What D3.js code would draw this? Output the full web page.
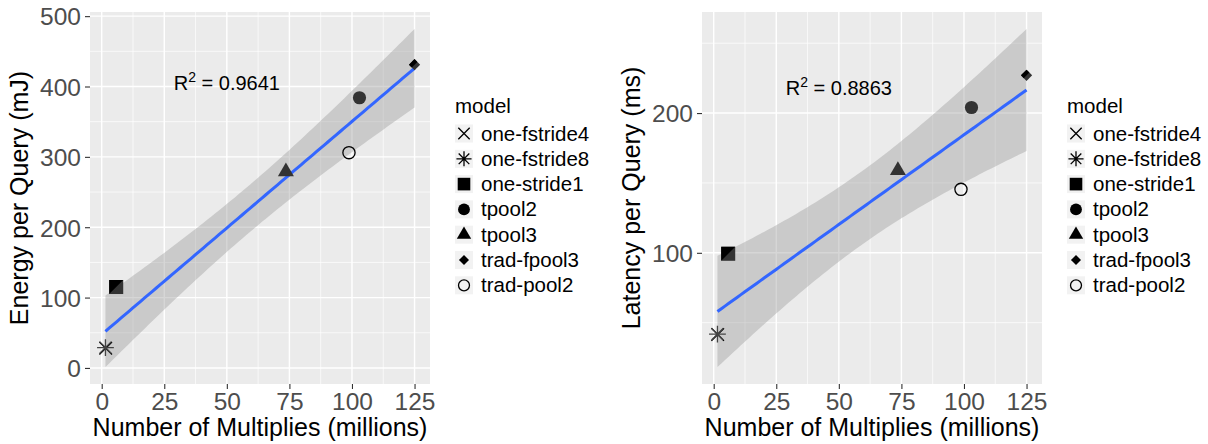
<!DOCTYPE html>
<meta charset="utf-8">
<html>
<head>
  <title>Multiplies vs energy / latency</title>
  <style>
    body { margin: 0; background: #fff; }
    svg { display: block; font-family: "Liberation Sans", Arial, Helvetica, sans-serif; }
  </style>
</head>
<body>

<svg id="chart" width="1208" height="444"></svg>

<script src="https://d3js.org/d3.v7.min.js"></script>
<script>

// --- data ---
const models     = ["one-fstride4", "one-fstride8", "one-stride1", "tpool2", "tpool3", "trad-fpool3", "trad-pool2"];
const shapes     = ["cross", "asterisk", "square", "circle", "triangle", "diamond", "open"];
const multiplies = [1.6, 1.5, 5.8, 103, 73.6, 125, 98.8];   // millions
const energy     = [28, 29, 115, 384, 279, 431, 306];       // mJ
const latency    = [41.5, 41.8, 99.3, 204, 159, 227, 145.4]; // ms

const xTicks       = [0, 25, 50, 75, 100, 125];
const energyTicks  = [0, 100, 200, 300, 400, 500];
const latencyTicks = [100, 200];
const r2Labels     = ["0.9641", "0.8863"];
const annotX = 50;
const annotY = [405, 218];

const tCrit = 2.5706; // t(0.975, df = 5), n = 7 points

const svg = d3.select("#chart");

const panels = [
  { left: 90,  right: 430,  ys: energy,  ticks: energyTicks,  title: "Energy per Query (mJ)",  r2: r2Labels[0], ay: annotY[0] },
  { left: 702, right: 1042, ys: latency, ticks: latencyTicks, title: "Latency per Query (ms)", r2: r2Labels[1], ay: annotY[1] }
];
const plotTop = 12, plotBottom = 384;

// ordinary least squares with 95% confidence band (like geom_smooth(method = "lm"))
function linFit(xs, ys) {
  const n = xs.length,
        mx = d3.mean(xs), my = d3.mean(ys);
  let sxx = 0, sxy = 0, syy = 0;
  xs.forEach((x, i) => {
    sxx += (x - mx) * (x - mx);
    sxy += (x - mx) * (ys[i] - my);
    syy += (ys[i] - my) * (ys[i] - my);
  });
  const slope = sxy / sxx, icpt = my - slope * mx;
  const s = Math.sqrt((syy - slope * sxy) / (n - 2));
  const [x0, x1] = d3.extent(xs);
  const band = d3.range(80).map(k => {
    const x = x0 + (x1 - x0) * k / 79;
    const yhat = icpt + slope * x;
    const half = tCrit * s * Math.sqrt(1 / n + (x - mx) * (x - mx) / sxx);
    return { x: x, y: yhat, lo: yhat - half, hi: yhat + half };
  });
  return band;
}

function expand(ext) {
  const pad = (ext[1] - ext[0]) * 0.05;
  return [ext[0] - pad, ext[1] + pad];
}

function minors(ticks, dom) {
  const step = ticks.length > 1 ? ticks[1] - ticks[0] : 100;
  const m = [];
  ticks.forEach(t => { m.push(t - step / 2, t + step / 2); });
  return Array.from(new Set(m)).filter(v => v > dom[0] && v < dom[1]);
}

// draw one point symbol
function symbol(g, shape, cx, cy, k, legend) {
  const dark = legend ? "#000" : "#333";
  if (shape === "cross") {
    const h = 6.3 * k;
    g.append("path").attr("d", `M${cx-h},${cy-h}L${cx+h},${cy+h}M${cx-h},${cy+h}L${cx+h},${cy-h}`)
      .attr("stroke", "#000").attr("stroke-width", 1.3).attr("fill", "none");
  } else if (shape === "asterisk") {
    const h = 5.9 * k, p = 8.4 * k;
    g.append("path").attr("d", `M${cx-h},${cy-h}L${cx+h},${cy+h}M${cx-h},${cy+h}L${cx+h},${cy-h}M${cx-p},${cy}L${cx+p},${cy}M${cx},${cy-p}L${cx},${cy+p}`)
      .attr("stroke", legend ? "#000" : "#444").attr("stroke-width", 1.3).attr("fill", "none");
  } else if (shape === "square") {
    const h = 7 * k;
    g.append("rect").attr("x", cx - h).attr("y", cy - h).attr("width", 2 * h).attr("height", 2 * h).attr("fill", dark);
    if (!legend) g.append("path").attr("d", `M${cx-h},${cy-h}L${cx+h},${cy-h}L${cx-h},${cy+h}Z`).attr("fill", "#000");
  } else if (shape === "circle") {
    g.append("circle").attr("cx", cx).attr("cy", cy).attr("r", 6.6 * k).attr("fill", dark);
  } else if (shape === "triangle") {
    const hw = 8 * k, r = 9.2 * k;
    g.append("path").attr("d", `M${cx},${cy-r}L${cx+hw},${cy+r/2}L${cx-hw},${cy+r/2}Z`).attr("fill", dark);
  } else if (shape === "diamond") {
    const h = 5.6 * k;
    g.append("path").attr("d", `M${cx},${cy-h}L${cx+h},${cy}L${cx},${cy+h}L${cx-h},${cy}Z`).attr("fill", dark);
    if (!legend) g.append("path").attr("d", `M${cx},${cy-h}L${cx+h/2},${cy-h/2}L${cx-h/2},${cy+h/2}L${cx-h},${cy}Z`).attr("fill", "#000");
  } else if (shape === "open") {
    g.append("circle").attr("cx", cx).attr("cy", cy).attr("r", 6.1 * k)
      .attr("fill", "none").attr("stroke", "#000").attr("stroke-width", 1.3);
  }
}

panels.forEach(p => {
  const band = linFit(multiplies, p.ys);

  const xDom = expand(d3.extent(multiplies));
  const yDom = expand(d3.extent(p.ys.concat(band.map(d => d.lo), band.map(d => d.hi))));

  const x = d3.scaleLinear().domain(xDom).range([p.left, p.right]);
  const y = d3.scaleLinear().domain(yDom).range([plotBottom, plotTop]);

  const g = svg.append("g");

  // panel background + grid
  g.append("rect").attr("x", p.left).attr("y", plotTop)
    .attr("width", p.right - p.left).attr("height", plotBottom - plotTop).attr("fill", "#ebebeb");

  g.selectAll(".xminor").data(minors(xTicks, xDom)).join("line")
    .attr("x1", d => x(d)).attr("x2", d => x(d)).attr("y1", plotTop).attr("y2", plotBottom)
    .attr("stroke", "#fff").attr("stroke-width", 0.7);
  g.selectAll(".yminor").data(minors(p.ticks, yDom)).join("line")
    .attr("x1", p.left).attr("x2", p.right).attr("y1", d => y(d)).attr("y2", d => y(d))
    .attr("stroke", "#fff").attr("stroke-width", 0.7);
  g.selectAll(".xmajor").data(xTicks).join("line")
    .attr("x1", d => x(d)).attr("x2", d => x(d)).attr("y1", plotTop).attr("y2", plotBottom)
    .attr("stroke", "#fff").attr("stroke-width", 1.4);
  g.selectAll(".ymajor").data(p.ticks).join("line")
    .attr("x1", p.left).attr("x2", p.right).attr("y1", d => y(d)).attr("y2", d => y(d))
    .attr("stroke", "#fff").attr("stroke-width", 1.4);

  // confidence band and fit line
  g.append("path").datum(band)
    .attr("d", d3.area().x(d => x(d.x)).y0(d => y(d.lo)).y1(d => y(d.hi)))
    .attr("fill", "#999").attr("fill-opacity", 0.4);
  g.append("path").datum(band)
    .attr("d", d3.line().x(d => x(d.x)).y(d => y(d.y)))
    .attr("fill", "none").attr("stroke", "#3366FF").attr("stroke-width", 3);

  // points
  models.forEach((m, i) => symbol(g, shapes[i], x(multiplies[i]), y(p.ys[i]), 1, false));

  // R^2 annotation
  const t = g.append("text")
    .attr("x", x(annotX)).attr("y", y(p.ay) + 7)
    .attr("text-anchor", "middle").attr("font-size", 20).attr("fill", "#000");
  t.append("tspan").text("R");
  t.append("tspan").attr("font-size", 14).attr("dy", -8).text("2");
  t.append("tspan").attr("dy", 8).text(" = " + p.r2);

  // axes
  const xAxis = g.append("g").attr("transform", `translate(0,${plotBottom})`)
    .call(d3.axisBottom(x).tickValues(xTicks).tickSize(5).tickPadding(4));
  const yAxis = g.append("g").attr("transform", `translate(${p.left},0)`)
    .call(d3.axisLeft(y).tickValues(p.ticks).tickSize(5).tickPadding(4));
  [xAxis, yAxis].forEach(a => {
    a.select(".domain").remove();
    a.selectAll(".tick line").attr("stroke", "#333").attr("stroke-width", 1.1);
    a.selectAll(".tick text").attr("fill", "#4d4d4d").attr("font-size", 24.5)
      .attr("font-family", "Liberation Sans, Arial, sans-serif");
  });
  xAxis.selectAll(".tick text").attr("dy", null).attr("y", 26);
  yAxis.selectAll(".tick text").attr("dy", "0.36em");

  g.append("text")
    .attr("x", (p.left + p.right) / 2).attr("y", plotBottom + 52)
    .attr("text-anchor", "middle").attr("font-size", 25).attr("fill", "#000")
    .text("Number of Multiplies (millions)");
  g.append("text")
    .attr("transform", `translate(${p.left - 62},${(plotTop + plotBottom) / 2}) rotate(-90)`)
    .attr("text-anchor", "middle").attr("font-size", 25).attr("fill", "#000")
    .text(p.title);

  // legend
  const lx = p.right + 25;
  const leg = g.append("g");
  leg.append("text").attr("x", lx).attr("y", 113).attr("font-size", 20.5).attr("fill", "#000").text("model");
  models.forEach((m, i) => {
    const cy = 133.5 + i * 25.3;
    leg.append("rect").attr("x", lx).attr("y", cy - 9).attr("width", 18).attr("height", 18).attr("fill", "#f2f2f2");
    symbol(leg, shapes[i], lx + 9, cy, 0.9, true);
    leg.append("text").attr("x", lx + 26).attr("y", cy + 7).attr("font-size", 20.5).attr("fill", "#000").text(m);
  });
});

</script>
</body>
</html>
